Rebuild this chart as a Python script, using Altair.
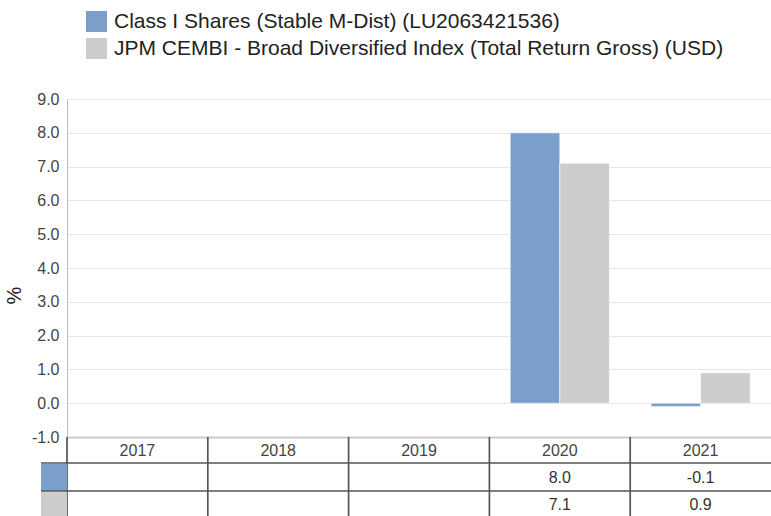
import altair as alt
import pandas as pd

years = ["2017", "2018", "2019", "2020", "2021"]
series_names = [
    "Class I Shares (Stable M-Dist) (LU2063421536)",
    "JPM CEMBI - Broad Diversified Index (Total Return Gross) (USD)",
]
series_colors = ["#7A9FCB", "#CCCCCC"]
fund_values = [None, None, None, 8.0, -0.1]
index_values = [None, None, None, 7.1, 0.9]
y_ticks = [-1, 0, 1, 2, 3, 4, 5, 6, 7, 8, 9]

rows = []
for s, vals in zip(series_names, [fund_values, index_values]):
    for y, v in zip(years, vals):
        if v is not None:
            rows.append({"year": y, "series": s, "value": v})
df = pd.DataFrame(rows)
years_df = pd.DataFrame({"year": years})

W, H = 704, 338
FONT = "Liberation Sans"
HYPHEN_FMT = "replace(format({v}, '.1f'), '\u2212', '-')"

x_enc = alt.X("year:N", scale=alt.Scale(domain=years, paddingInner=0, paddingOuter=0),
              axis=alt.Axis(title=None, labels=False, ticks=False, grid=False,
                            domainColor="#cccccc", domainWidth=2))
color_enc = alt.Color(
    "series:N",
    scale=alt.Scale(domain=series_names, range=series_colors),
    legend=alt.Legend(title=None, orient="none", legendX=19, legendY=-88, padding=0,
                      symbolType="square", symbolSize=441, symbolStrokeWidth=0,
                      labelFontSize=21, labelFont=FONT, labelColor="#222222",
                      rowPadding=5, labelOffset=7, labelLimit=0, direction="vertical"),
)

bars = alt.Chart(df).mark_bar(stroke="white", strokeWidth=0.6).encode(
    x=x_enc,
    xOffset=alt.XOffset("series:N", scale=alt.Scale(domain=series_names, paddingOuter=0.42, paddingInner=0)),
    y=alt.Y("value:Q",
            scale=alt.Scale(domain=[-1, 9], nice=False, zero=False),
            axis=alt.Axis(values=y_ticks, labelExpr=HYPHEN_FMT.format(v="datum.value"),
                          title="%", ticks=False,
                          labelFontSize=16, labelFont=FONT, labelColor="#444444",
                          labelPadding=8, labelFlush=False,
                          domainColor="#bbbbbb", gridColor="#e6e6e6",
                          titleFontSize=20, titleFont=FONT, titleFontWeight="normal",
                          titleColor="#222222", titleAngle=270, titleX=-53, titleY=196,
                          titleAlign="center", titleBaseline="middle")),
    color=color_enc,
)

# table: header
header = alt.Chart(years_df).mark_text(fontSize=16, font=FONT, color="#444444", baseline="middle").encode(
    x=alt.X("year:N"), y=alt.value(352), text="year:N")

# table: vertical lines at column starts
vlines = alt.Chart(years_df).mark_rule(color="#555555", strokeWidth=1.7).encode(
    x=alt.X("year:N", bandPosition=0), y=alt.value(H), y2=alt.value(425))

layers = [bars, header, vlines]
row_line_y = [364, 392]
row_text_y = [379, 406]
for i, s in enumerate(series_names):
    one = pd.DataFrame({"series": [s]})
    layers.append(alt.Chart(one).mark_rule(color="#555555", strokeWidth=1.7).encode(
        x=alt.value(-26), x2=alt.value(W), y=alt.value(row_line_y[i])))
    layers.append(alt.Chart(one).mark_rect().encode(
        x=alt.value(-26), x2=alt.value(0), y=alt.value(row_line_y[i] + 1), y2=alt.value(row_line_y[i] + 28),
        color=alt.Color("series:N")))
    layers.append(alt.Chart(df).transform_filter(alt.datum.series == s).transform_calculate(
        label=HYPHEN_FMT.format(v="datum.value")).mark_text(
        fontSize=16, font=FONT, color="#333333", baseline="middle").encode(
        x=alt.X("year:N"), y=alt.value(row_text_y[i]), text="label:N"))

chart = alt.layer(*layers).properties(
    width=W, height=H,
    padding={"left": 67, "top": 99, "right": 0, "bottom": 79},
    autosize=alt.AutoSizeParams(type="none"),
).configure_view(stroke=None)

chart.save("out.html", embed_options={"renderer": "svg", "actions": False})
